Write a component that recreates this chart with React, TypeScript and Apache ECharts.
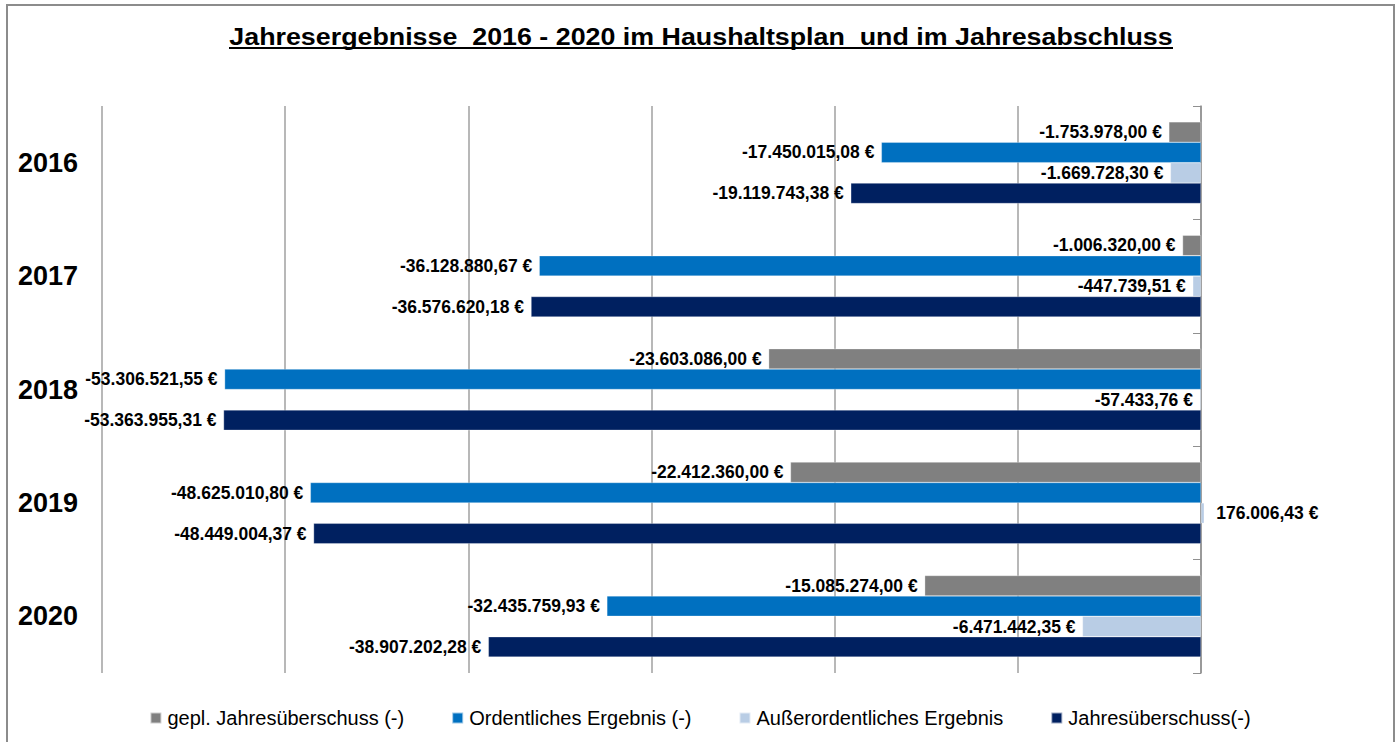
import React, { useEffect, useRef } from "react";
import * as echarts from "echarts";

const years = ["2016", "2017", "2018", "2019", "2020"];
const geplJahresueberschuss = [-1753978.0, -1006320.0, -23603086.0, -22412360.0, -15085274.0];
const ordentlichesErgebnis = [-17450015.08, -36128880.67, -53306521.55, -48625010.8, -32435759.93];
const ausserordentlichesErgebnis = [-1669728.3, -447739.51, -57433.76, 176006.43, -6471442.35];
const jahresueberschuss = [-19119743.38, -36576620.18, -53363955.31, -48449004.37, -38907202.28];

const seriesNames = [
  "gepl. Jahresüberschuss (-)",
  "Ordentliches Ergebnis (-)",
  "Außerordentliches Ergebnis",
  "Jahresüberschuss(-)",
];
const seriesColors = ["#808080", "#0070C0", "#B9CDE5", "#002060"];
const titleText = "Jahresergebnisse  2016 - 2020 im Haushaltsplan  und im Jahresabschluss";

function fmtDE(v: number): string {
  const neg = v < 0;
  const a = Math.abs(v);
  const fixed = a.toFixed(2);
  const [intPart, dec] = fixed.split(".");
  const withDots = intPart.replace(/\B(?=(\d{3})+(?!\d))/g, ".");
  return (neg ? "-" : "") + withDots + "," + dec + " €";
}

export default function App() {
  const ref = useRef<HTMLDivElement>(null);
  useEffect(() => {
    if (!ref.current) return;
    const chart = echarts.init(ref.current, undefined, { renderer: "svg" });
    const allData = [geplJahresueberschuss, ordentlichesErgebnis, ausserordentlichesErgebnis, jahresueberschuss];
    const series = allData.map((arr, i) => ({
      name: seriesNames[i],
      type: "bar",
      clip: false,
      barGap: "0%",
      barCategoryGap: "28%",
      itemStyle: { color: seriesColors[i], borderColor: "rgba(255,255,255,0.6)", borderWidth: 0.5 },
      data: arr.map((v) => ({
        value: v,
        label: { position: v < 0 ? "left" : "right", distance: v < 0 ? 7 : 12 },
      })),
      label: {
        show: true,
        fontFamily: "Liberation Sans, Arial, sans-serif",
        fontWeight: "bold",
        fontSize: 17.5,
        color: "#000",
        formatter: (p: any) => fmtDE(p.value),
      },
    }));
    chart.setOption({
      animation: false,
      backgroundColor: "#fff",
      legend: {
        top: 708,
        left: "center",
        padding: 0,
        icon: "rect",
        itemWidth: 11,
        itemHeight: 11,
        itemGap: 47,
        textStyle: {
          fontFamily: "Liberation Sans, Arial, sans-serif",
          fontSize: 20,
          color: "#000",
          padding: [0, 0, 0, 1],
        },
        data: seriesNames,
      },
      grid: { left: 102, width: 1099, top: 106, height: 567, containLabel: false },
      xAxis: {
        type: "value",
        min: -60000000,
        max: 0,
        interval: 10000000,
        axisLabel: { show: false },
        axisLine: { show: false },
        axisTick: { show: false },
        splitLine: { show: true, lineStyle: { color: "#A0A0A0", width: 1.5 } },
      },
      yAxis: [
        {
          type: "category",
          data: years,
          inverse: true,
          position: "left",
          axisLine: { show: false },
          axisTick: { show: false },
          axisLabel: {
            align: "left",
            margin: 84,
            fontFamily: "Liberation Sans, Arial, sans-serif",
            fontWeight: "bold",
            fontSize: 27,
            color: "#000",
          },
        },
        {
          type: "category",
          data: years,
          inverse: true,
          position: "right",
          axisLine: { show: true, onZero: false, lineStyle: { color: "#909090", width: 1.5 } },
          axisTick: { show: true, inside: true, length: 8, lineStyle: { color: "#909090" } },
          axisLabel: { show: false },
        },
      ],
      graphic: [
        {
          type: "rect",
          shape: { x: 7, y: 5, width: 1387, height: 760 },
          style: { fill: "none", stroke: "#8C8C8C", lineWidth: 2 },
          silent: true,
          z: -1,
        },
        {
          type: "text",
          x: 701,
          y: 37,
          scaleX: 1.118,
          style: {
            text: titleText,
            fontFamily: "Liberation Sans, Arial, sans-serif",
            fontWeight: "bold",
            fontSize: 24,
            fill: "#000",
            textAlign: "center",
            textVerticalAlign: "middle",
          },
          silent: true,
        },
        {
          type: "line",
          shape: { x1: 229, y1: 48, x2: 1173, y2: 48 },
          style: { stroke: "#000", lineWidth: 2 },
          silent: true,
        },
      ],
      series,
    });
    return () => chart.dispose();
  }, []);
  return (
    <div
      ref={ref}
      style={{ position: "absolute", left: 0, top: 0, width: 1400, height: 742 }}
    />
  );
}
